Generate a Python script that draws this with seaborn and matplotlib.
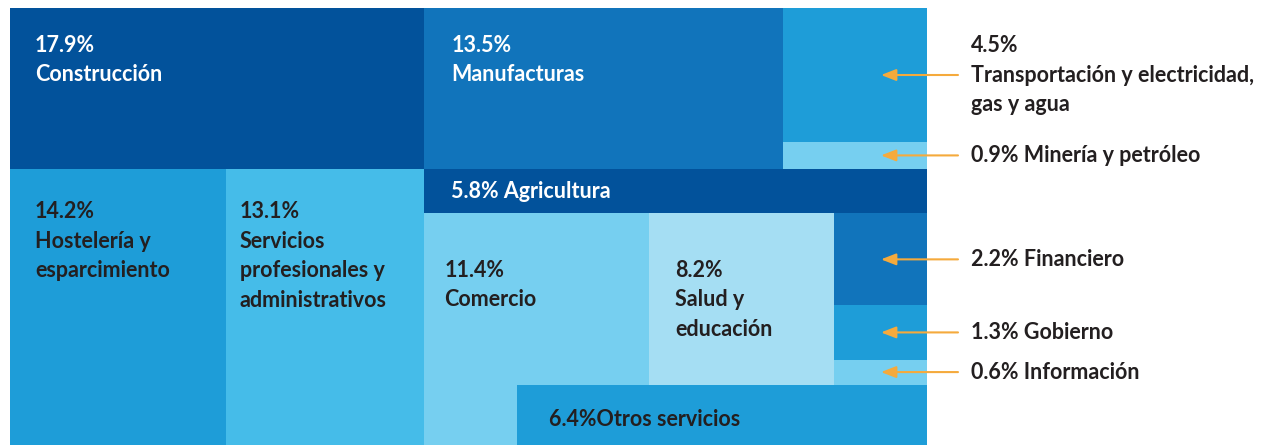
import numpy as np
import matplotlib.pyplot as plt
from matplotlib.patches import Rectangle
from matplotlib.transforms import ScaledTranslation
import seaborn as sns

# Employment share by sector (%)
keys = ['con', 'man', 'tra', 'min', 'hos', 'ser', 'agr', 'com', 'sal', 'fin', 'gob', 'inf', 'otr']
names = ['Construcción', 'Manufacturas', 'Transportación y electricidad,\ngas y agua',
         'Minería y petróleo', 'Hostelería y\nesparcimiento',
         'Servicios\nprofesionales y\nadministrativos', 'Agricultura', 'Comercio',
         'Salud y\neducación', 'Financiero', 'Gobierno', 'Información', 'Otros servicios']
shares = [17.9, 13.5, 4.5, 0.9, 14.2, 13.1, 5.8, 11.4, 8.2, 2.2, 1.3, 0.6, 6.4]

v = dict(zip(keys, shares))
name = dict(zip(keys, names))

# colours
DARK, MID, BLUE, SKY, LIGHT, PALE = '#02529b', '#1174bb', '#1e9dd8', '#45bce9', '#76cff0', '#a5def3'
INK, ORANGE = '#231f20', '#f5aa3c'
fill = dict(con=DARK, man=MID, tra=BLUE, min=LIGHT, hos=BLUE, ser=SKY, agr=DARK,
            com=LIGHT, sal=PALE, fin=MID, gob=BLUE, inf=LIGHT, otr=BLUE)


def layout():
    """hand-shaped treemap, all sizes derived from the shares"""
    r = {}
    total = sum(shares)
    left_w = (v['con'] + v['hos'] + v['ser']) / total
    top_h = (v['con'] + v['man'] + v['tra'] + v['min']) / total
    r['con'] = (0, 0, left_w, top_h)
    hw = left_w * v['hos'] / (v['hos'] + v['ser'])
    r['hos'] = (0, top_h, hw, 1 - top_h)
    r['ser'] = (hw, top_h, left_w - hw, 1 - top_h)
    rw = 1 - left_w
    mw = rw * v['man'] / (v['man'] + v['tra'] + v['min'])
    r['man'] = (left_w, 0, mw, top_h)
    th = top_h * v['tra'] / (v['tra'] + v['min'])
    r['tra'] = (left_w + mw, 0, rw - mw, th)
    r['min'] = (left_w + mw, th, rw - mw, top_h - th)
    # lower right block
    rest = ['agr', 'com', 'sal', 'fin', 'gob', 'inf', 'otr']
    S = sum(v[k] for k in rest)
    ah = (1 - top_h) * v['agr'] / S
    r['agr'] = (left_w, top_h, rw, ah)
    y0 = top_h + ah
    Hr = 1 - y0
    u = (S - v['agr']) / (rw * Hr)
    fgi = v['fin'] + v['gob'] + v['inf']
    # strip height where Comercio's foot is as wide as the small column
    hs_grid = np.linspace(Hr * 0.02, Hr * 0.6, 2000)
    f = rw - fgi / (u * (Hr - hs_grid)) - v['otr'] / (u * hs_grid)
    hs = hs_grid[np.argmax(f > 0)]
    hu = Hr - hs
    wf = fgi / (u * hu)
    ws = v['sal'] / (u * hu)
    wc = rw - ws - wf
    r['com'] = (left_w, y0, wc, Hr)
    r['sal'] = (left_w + wc, y0, ws, hu)
    yy = y0
    for k in ['fin', 'gob', 'inf']:
        h = hu * v[k] / fgi
        r[k] = (1 - wf, yy, wf, h)
        yy += h
    r['otr'] = (left_w + wf, y0 + hu, rw - wf, hs)
    return r


sns.set_theme(style='white')
plt.rcParams['font.family'] = ['Lato', 'DejaVu Sans']

fig = plt.figure(figsize=(12.67, 4.45), dpi=100)
ax = fig.add_axes([10 / 1267, 0, 917 / 1267, 437 / 445])
ax.set_xlim(0, 1)
ax.set_ylim(1, 0)
ax.axis('off')

rects = layout()
for k in keys:
    x, y, w, h = rects[k]
    ax.add_patch(Rectangle((x, y), w, h, facecolor=fill[k], edgecolor='none'))

FS = 15.5
LINE = 29.5  # px between lines


def pt(px):
    return px * 72 / 100


def put_lines(lines, xy, dx, dy, color, trans=None):
    for i, line in enumerate(lines):
        ax.annotate(line, xy=xy, xycoords=trans or 'data',
                    xytext=(pt(dx), -pt(dy + i * LINE)), textcoords='offset points',
                    ha='left', va='center', fontsize=FS, fontweight='bold', color=color)


# labels inside the cells: (key, layout, dx px, dy px to first line, colour)
inside = [('con', 'stack', 25, 37, 'white'), ('man', 'stack', 27, 37, 'white'),
          ('hos', 'stack', 25, 43, INK), ('ser', 'stack', 14, 43, INK),
          ('agr', 'inline', 27, None, 'white'), ('com', 'stack', 20, 57, INK),
          ('sal', 'stack', 26, 57, INK), ('otr', 'tight', 32, 35, INK)]
for k, mode, dx, dy, col in inside:
    x, y, w, h = rects[k]
    if mode == 'stack':
        lines = [f'{v[k]}%'] + name[k].split('\n')
    elif mode == 'inline':
        lines = [f'{v[k]}% {name[k]}']
    else:
        lines = [f'{v[k]}%{name[k]}']
    if dy is None:
        put_lines(lines, (x, y + h / 2), dx, 0, col)
    else:
        put_lines(lines, (x, y), dx, dy, col)

# callouts on the right for the small sectors
for k in ['tra', 'min', 'fin', 'gob', 'inf']:
    x, y, w, h = rects[k]
    yc = y + h / 2
    head = ax.transData + ScaledTranslation(-46 / 100, 0, fig.dpi_scale_trans)
    ax.annotate('', xy=(x + w, yc), xycoords=head,
                xytext=(pt(77), 0), textcoords='offset points',
                arrowprops=dict(arrowstyle='-|>,head_length=0.9,head_width=0.35',
                                color=ORANGE, lw=1.5, mutation_scale=10,
                                shrinkA=0, shrinkB=0))
    if k == 'tra':
        lines = [f'{v[k]}%'] + name[k].split('\n')
        put_lines(lines, (x + w, yc), 44, -LINE, INK)
    else:
        put_lines([f'{v[k]}% {name[k]}'], (x + w, yc), 44, 0, INK)

fig.savefig('out.png', dpi=100)
